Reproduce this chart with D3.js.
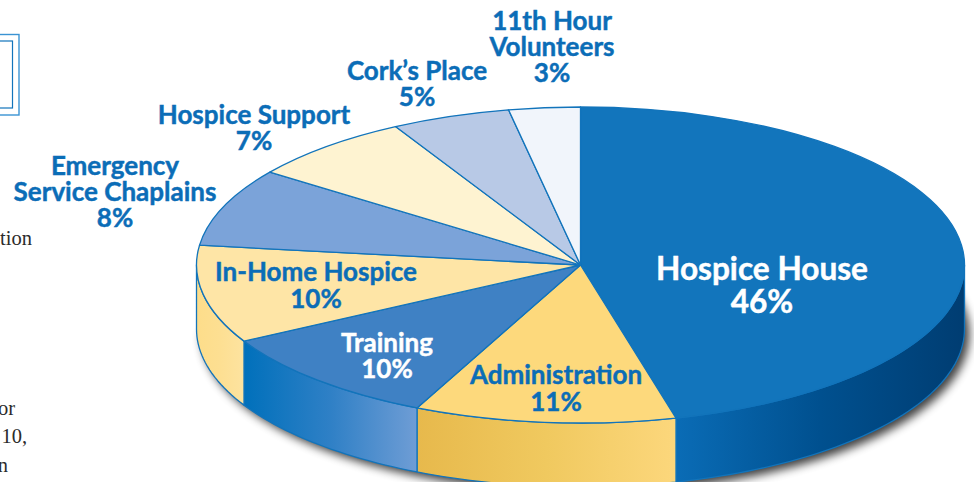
<!DOCTYPE html>
<html><head><meta charset="utf-8">
<style>html,body{margin:0;padding:0;background:#fff;overflow:hidden}svg{display:block}</style>
<script src="https://cdn.jsdelivr.net/npm/d3@7/dist/d3.min.js"></script>
</head><body><svg id="c" width="974" height="482"></svg>
<script>
const categories = ["Hospice House","Administration","Training","In-Home Hospice","Emergency Service Chaplains","Hospice Support","Cork\u2019s Place","11th Hour Volunteers"];
const shares = [46,11,10,10,8,7,5,3];
const labelLines = [["Hospice House","46%"],["Administration","11%"],["Training","10%"],["In-Home Hospice","10%"],["Emergency","Service Chaplains","8%"],["Hospice Support","7%"],["Cork\u2019s Place","5%"],["11th Hour","Volunteers","3%"]];
const topColors = ["#1275bc","#fdd97c","#3f81c4","#fee5a6","#7ba3d9","#fef3d1","#b8c9e6","#f1f5fb"];
const wallStops = [["#0a6cb6","#00508f","#003d72"],["#e7b94c","#f0c95f","#fcd77c"],["#0070bb","#2f80c6","#6f9dd5"],["#fddd8a","#fddf92","#fde3a0"]];
const labelFill = ["#fff","#0b6db7","#fff","#0b6db7","#0b6db7","#0b6db7","#0b6db7","#0b6db7"];
const fragments = [["tion",32,245],["or",15,415],["10,",27,443],["n",8,472]];

const cx=580.5, cy=265, rx=384, ry=158, depth=64, edge="#1274bb";
const labelLayout=[[762,280,31.6,32.5],[556,384,26,27],[387,352,26,26],[316,281,26,26.5],[115,175,26,26],[254,124,26,26],[417,80,26,26],[552,30,26,26]];
const svg=d3.select("#c"), defs=svg.append("defs");
const px=a=>cx+rx*Math.sin(a), py=a=>cy-ry*Math.cos(a);
const arcs=d3.pie().sort(null).value(d=>d)(shares);

const f=defs.append("filter").attr("id","sh").attr("x","-10%").attr("y","-15%").attr("width","120%").attr("height","135%");
f.append("feGaussianBlur").attr("stdDeviation",5);

// frame and clipped body copy
svg.append("rect").attr("x",-10).attr("y",34.5).attr("width",29).attr("height",80.5).attr("fill","none").attr("stroke","#3a93d3").attr("stroke-width",1.4);
svg.append("rect").attr("x",-10).attr("y",41).attr("width",22.5).attr("height",67).attr("fill","none").attr("stroke","#1274bb").attr("stroke-width",1.2);
svg.append("g").selectAll("text").data(fragments).join("text")
  .attr("x",d=>d[1]).attr("y",d=>d[2]).attr("text-anchor","end")
  .attr("font-family","Liberation Serif").attr("font-size",20.5).attr("fill","#2b2b2b").text(d=>d[0]);

// shadow
const sweep=(a0,a1,dy)=>{const n=Math.max(2,Math.ceil((a1-a0)*40));return d3.range(n+1).map(i=>{const a=a0+(a1-a0)*i/n;return [px(a),py(a)+dy];});};
const line=d3.line();
svg.append("path").attr("d",line(sweep(Math.PI*0.3,Math.PI*1.5,depth+5))+"Z").attr("transform","translate(5,0)").attr("fill","#000").attr("opacity",.75).attr("filter","url(#sh)");

// walls: only slices on the near side
const walls=arcs.slice(0,4);
walls.forEach((d,i)=>{
  const a0=d.startAngle<Math.PI/2?Math.PI/2:d.startAngle;
  const a1=d.endAngle>3*Math.PI/2?3*Math.PI/2:d.endAngle;
  const xs=[px(a0),px(a1)];
  const g=defs.append("linearGradient").attr("id","w"+i).attr("gradientUnits","userSpaceOnUse")
    .attr("x1",d3.min(xs)).attr("x2",d3.max(xs)).attr("y1",0).attr("y2",0);
  const stops=wallStops[i];
  stops.forEach((c,k)=>g.append("stop").attr("offset",k/(stops.length-1)).attr("stop-color",c));
});
const wallG=svg.append("g");
walls.forEach((d,i)=>{
  const a0=i===0?Math.PI/2:d.startAngle;
  const a1=i===3?3*Math.PI/2:d.endAngle;
  const t=sweep(a0,a1,0), b=sweep(a0,a1,depth).reverse();
  wallG.append("path").attr("d",line(t.concat(b))+"Z").attr("fill",`url(#w${i})`).attr("stroke",edge).attr("stroke-width",1.3).attr("stroke-linejoin","round");
});

// top face
const arc=d3.arc().innerRadius(0).outerRadius(rx);
svg.append("g").attr("transform",`translate(${cx},${cy}) scale(1,${ry/rx})`)
  .selectAll("path").data(arcs).join("path").attr("d",arc)
  .attr("fill",(d,i)=>topColors[i]).attr("stroke",edge).attr("stroke-width",1.3).attr("vector-effect","non-scaling-stroke").attr("stroke-linejoin","round")
  .append("title").text((d,i)=>categories[i]);

// labels
const lg=svg.append("g").attr("font-family","Lato").attr("font-weight",700).attr("text-anchor","middle");
labelLines.forEach((lines,i)=>{
  const [x,y,fs,lh]=labelLayout[i];
  lines.forEach((s,k)=>lg.append("text").attr("font-size",fs).attr("fill",labelFill[i]).attr("stroke",labelFill[i]).attr("stroke-width",.45)
    .attr("x",x).attr("y",y+k*lh).text(s));
});
</script></body></html>
